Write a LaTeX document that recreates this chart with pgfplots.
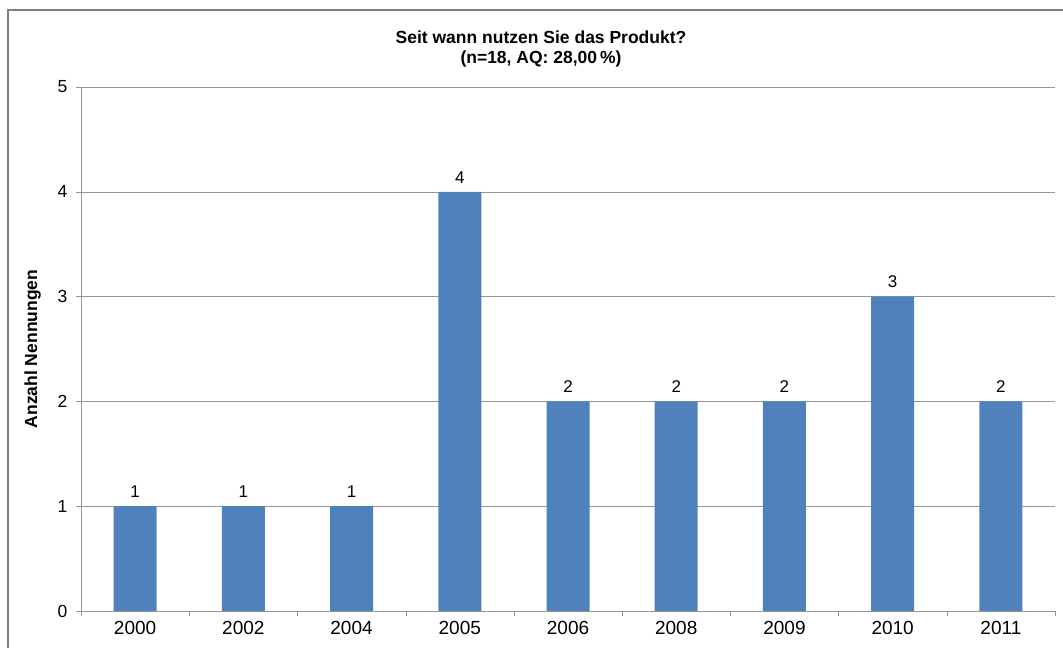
\documentclass[border=0pt]{standalone}
\usepackage{pgfplots}
\pgfplotsset{compat=1.18}
\usepackage{fontspec}
\setmainfont{Liberation Sans}
\definecolor{barblue}{RGB}{79,129,189}
\definecolor{gridgray}{RGB}{150,150,150}
\definecolor{framegray}{RGB}{128,128,128}
\begin{document}
\begin{tikzpicture}[x=1bp,y=1bp]
\useasboundingbox (0,0) rectangle (1063,648);
\draw[framegray, line width=1.5bp] (8,0) -- (8,638) -- (1063,638);
\node[font=\bfseries\fontsize{17.5bp}{20bp}\selectfont, align=center] at (541,599)
  {Seit wann nutzen Sie das Produkt?\\(n=18, AQ: 28,00\,\%)};
\begin{axis}[
  at={(81bp,37bp)}, anchor=south west,
  scale only axis, width=974bp, height=524bp,
  xmin=-0.5, xmax=8.5, ymin=0, ymax=5,
  ybar, bar width=43bp,
  axis lines=left, axis line style={-, gridgray},
  xtick={0,...,8},
  xticklabels={2000,2002,2004,2005,2006,2008,2009,2010,2011},
  minor xtick={-0.5,0.5,...,8.5},
  major x tick style={draw=none},
  minor x tick style={gridgray},
  ytick={0,...,5},
  y tick style={gridgray},
  tick align=outside,
  major tick length=5bp, minor tick length=5bp,
  ymajorgrids, grid style={gridgray},
  /pgf/number format/assume math mode=true,
  y tick label style={font=\fontsize{17.5bp}{20bp}\selectfont, xshift=-5bp},
  x tick label style={font=\fontsize{19bp}{20bp}\selectfont, yshift=-2bp},
  ylabel={\bfseries Anzahl Nennungen},
  ylabel style={font=\fontsize{17.5bp}{20bp}\selectfont},
  ylabel shift=10bp,
  nodes near coords,
  nodes near coords style={font=\fontsize{17bp}{20bp}\selectfont, black, yshift=5bp},
]
\addplot[fill=barblue, draw=none] coordinates {
(0,1) (1,1) (2,1) (3,4) (4,2) (5,2) (6,2) (7,3) (8,2)
};
\end{axis}
\end{tikzpicture}
\end{document}
